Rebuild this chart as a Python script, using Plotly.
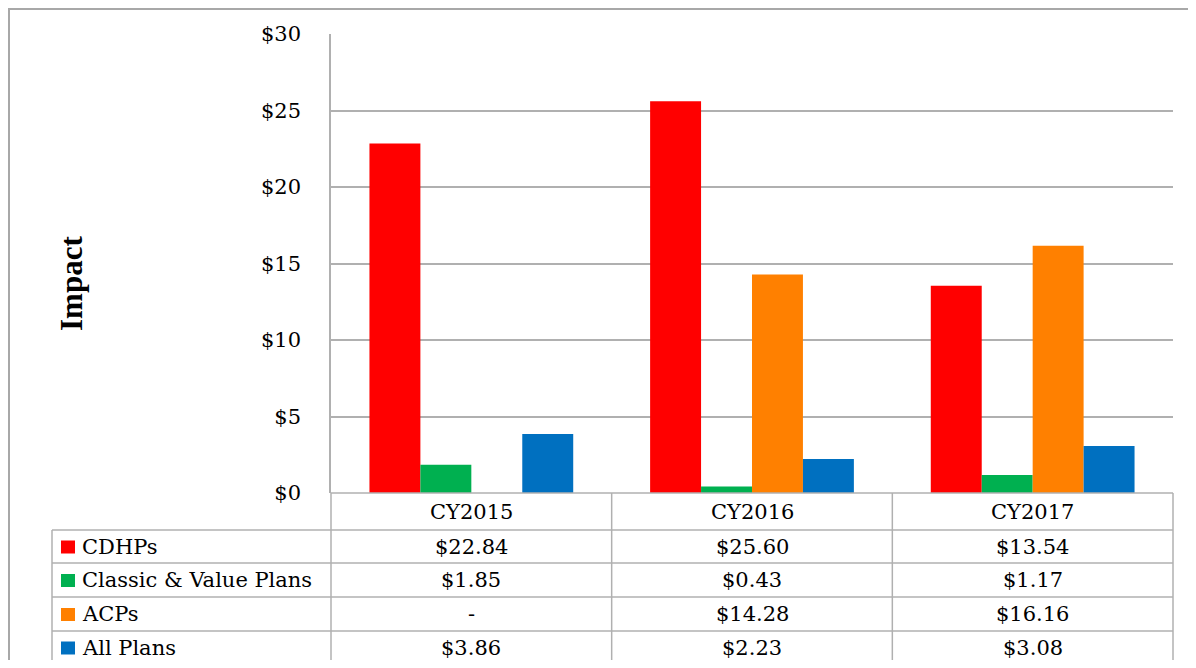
import plotly.graph_objects as go

categories = ["CY2015", "CY2016", "CY2017"]
series_names = ["CDHPs", "Classic & Value Plans", "ACPs", "All Plans"]
cdhps = [22.84, 25.60, 13.54]
classic_value = [1.85, 0.43, 1.17]
acps = [None, 14.28, 16.16]
all_plans = [3.86, 2.23, 3.08]
series_values = [cdhps, classic_value, acps, all_plans]
colors = ["#FF0000", "#00B050", "#FF8000", "#0070C0"]
y_ticks = [0, 5, 10, 15, 20, 25, 30]

# figure is placed inside the page's default 8px body margin
OFF = 8
W, H = 1196 - 2 * OFF, 668 - 2 * OFF
FONT = "DejaVu Serif, Liberation Serif, serif"
TITLE_FONT = "Liberation Serif, Times New Roman, serif"
GRID = "#B0B0B0"
FS = 21

def px(x):
    return (x - OFF) / W

def py(y):
    return 1 - (y - OFF) / H

x0, x1 = 331, 1173
y_top, y_bot = 34, 493
label_left = 52
row_edges = [493, 530, 563, 597, 631, 664]

fig = go.Figure()
for name, vals, col in zip(series_names, series_values, colors):
    fig.add_trace(go.Bar(x=categories, y=vals, name=name, marker_color=col,
                         marker_line_width=0, showlegend=False))

shapes = []
annotations = []
line = dict(color=GRID, width=1.5)
# outer frame
shapes.append(dict(type="rect", xref="paper", yref="paper", x0=px(9), x1=px(1210),
                   y0=py(690), y1=py(9), line=dict(color="#A8A8A8", width=2)))
# table horizontal lines
for i, yy in enumerate(row_edges):
    left = x0 if i == 0 else label_left
    shapes.append(dict(type="line", xref="paper", yref="paper", x0=px(left), x1=px(x1),
                       y0=py(yy), y1=py(yy), line=line))
ncat = len(categories)
colw = (x1 - x0) / ncat
for j in range(ncat + 1):
    xx = x0 + j * colw
    shapes.append(dict(type="line", xref="paper", yref="paper", x0=px(xx), x1=px(xx),
                       y0=py(row_edges[0]), y1=py(row_edges[-1]), line=line))
shapes.append(dict(type="line", xref="paper", yref="paper", x0=px(label_left), x1=px(label_left),
                   y0=py(row_edges[1]), y1=py(row_edges[-1]), line=line))

for j, c in enumerate(categories):
    annotations.append(dict(xref="paper", yref="paper", x=px(x0 + (j + 0.5) * colw),
                            y=py((row_edges[0] + row_edges[1]) / 2), xanchor="center",
                            yanchor="middle", text=c, showarrow=False,
                            font=dict(family=FONT, size=FS, color="#000")))
for i, (name, vals, col) in enumerate(zip(series_names, series_values, colors)):
    yc = (row_edges[i + 1] + row_edges[i + 2]) / 2
    shapes.append(dict(type="rect", xref="paper", yref="paper", x0=px(61), x1=px(75),
                       y0=py(yc + 7), y1=py(yc - 6), fillcolor=col, line=dict(width=0)))
    annotations.append(dict(xref="paper", yref="paper", x=px(80), y=py(yc), text=name,
                            showarrow=False, xanchor="left", yanchor="middle",
                            font=dict(family=FONT, size=FS, color="#000")))
    for j, v in enumerate(vals):
        t = "-" if v is None else f"${v:.2f}"
        annotations.append(dict(xref="paper", yref="paper", x=px(x0 + (j + 0.5) * colw),
                                y=py(yc), text=t, showarrow=False, xanchor="center",
                                yanchor="middle",
                                font=dict(family=FONT, size=FS, color="#000")))

annotations.append(dict(xref="paper", yref="paper", x=px(71), y=py(284), text="<b>Impact</b>",
                        textangle=-90, showarrow=False, xanchor="center", yanchor="middle",
                        font=dict(family=TITLE_FONT, size=31, color="#000")))

fig.update_layout(
    width=W, height=H, margin=dict(l=0, r=0, t=0, b=0),
    paper_bgcolor="white", plot_bgcolor="white",
    barmode="group", bargap=0.274, bargroupgap=0,
    shapes=shapes, annotations=annotations,
    xaxis=dict(domain=[px(x0), px(x1)], showticklabels=False, showgrid=False,
               showline=False, zeroline=False, fixedrange=True),
    yaxis=dict(domain=[py(y_bot), py(y_top)], range=[0, 30], tickvals=y_ticks,
               ticktext=[f"${v}" for v in y_ticks], showgrid=True, gridcolor=GRID, gridwidth=1.5,
               showline=True, linecolor=GRID, linewidth=1.5, zeroline=False,
               ticklabelstandoff=24, automargin=False,
               tickfont=dict(family=FONT, size=FS, color="#000")),
)
fig.write_html("out.html")
